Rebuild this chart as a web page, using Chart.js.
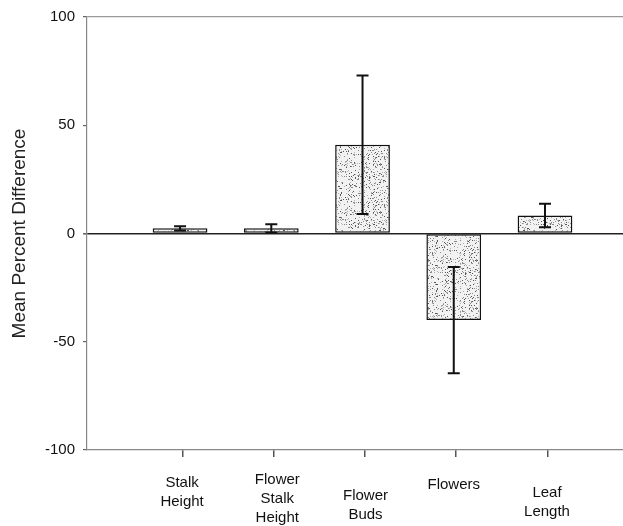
<!DOCTYPE html>
<html>
<head>
<meta charset="utf-8">
<script src="https://cdn.jsdelivr.net/npm/chart.js@4/dist/chart.umd.min.js"></script>
<style>
  html, body { margin: 0; padding: 0; background: #fff; }
  #wrap { width: 623px; height: 526px; position: relative; }
</style>
</head>
<body>
<div id="wrap"><canvas id="c" width="623" height="526"></canvas></div>
<script>
// Mean percent difference per measured trait, with error half-widths
const categories = ['Stalk Height', 'Flower Stalk Height', 'Flower Buds', 'Flowers', 'Leaf Length'];
const means = [2.4, 2.4, 41, -40, 8.3];
const errors = [1.0, 1.9, 32, 24.5, 5.4];
const yTicks = [-100, -50, 0, 50, 100];

// Category label placement below the axis (first-line offset and horizontal nudge, px)
const labelDrop = [33, 30, 46, 35, 43];
const labelNudge = [2, 6, 3, 0, 2];

const FONT = '"Liberation Sans", Arial, Helvetica, sans-serif';

// Stippled grey fill for the bars
function stipplePattern() {
  const size = 48;
  const p = document.createElement('canvas');
  p.width = size; p.height = size;
  const g = p.getContext('2d');
  g.fillStyle = '#f2f2f2';
  g.fillRect(0, 0, size, size);
  let s = 12345;
  const next = () => { s = (s * 1103515245 + 12345) & 0x7fffffff; return s / 0x7fffffff; };
  for (let k = 0; k < 400; k++) {
    const x = Math.floor(next() * size), y = Math.floor(next() * size);
    const t = next();
    g.fillStyle = t < 0.3 ? '#555' : (t < 0.7 ? '#8a8a8a' : '#b0b0b0');
    g.fillRect(x, y, 1, 1);
  }
  return g.createPattern(p, 'repeat');
}

const ctx = document.getElementById('c').getContext('2d');

const errorBars = {
  id: 'errorBars',
  afterDatasetsDraw(chart) {
    const meta = chart.getDatasetMeta(0);
    const y = chart.scales.y;
    const c = chart.ctx;
    c.save();
    c.strokeStyle = '#111';
    c.lineWidth = 2;
    meta.data.forEach((bar, i) => {
      const x = bar.x;
      const top = y.getPixelForValue(means[i] + errors[i]);
      const bot = y.getPixelForValue(means[i] - errors[i]);
      c.beginPath();
      c.moveTo(x, top); c.lineTo(x, bot);
      c.moveTo(x - 6, top); c.lineTo(x + 6, top);
      c.moveTo(x - 6, bot); c.lineTo(x + 6, bot);
      c.stroke();
    });
    c.restore();
  }
};

const categoryLabels = {
  id: 'categoryLabels',
  afterDraw(chart) {
    const xs = chart.scales.x;
    const base = chart.chartArea.bottom;
    const c = chart.ctx;
    c.save();
    c.font = '15px ' + FONT;
    c.fillStyle = '#111';
    c.textAlign = 'center';
    c.textBaseline = 'middle';
    categories.forEach((name, i) => {
      const x = xs.getPixelForValue(i + 1) + labelNudge[i];
      name.split(' ').forEach((word, j) => {
        c.fillText(word, x, base + labelDrop[i] + j * 19);
      });
    });
    c.restore();
  }
};

new Chart(ctx, {
  type: 'bar',
  data: {
    datasets: [{
      data: categories.map((_, i) => ({ x: i + 1, y: means[i] })),
      backgroundColor: stipplePattern(),
      borderColor: '#111',
      borderWidth: 1.5,
      borderSkipped: false,
      barPercentage: 0.6,
      categoryPercentage: 1.0
    }]
  },
  options: {
    responsive: false,
    animation: false,
    devicePixelRatio: 1,
    layout: { padding: { top: 17, right: 0, left: 0, bottom: 0 } },
    plugins: { legend: { display: false }, tooltip: { enabled: false } },
    scales: {
      x: {
        type: 'linear',
        offset: false,
        min: -0.02,
        max: 5.855,
        afterBuildTicks(scale) {
          scale.ticks = categories.map((_, i) => ({ value: i + 1.025 }));
        },
        afterFit(scale) { scale.height = 76; },
        ticks: { callback: () => '', font: { size: 1 } },
        grid: { offset: false, drawOnChartArea: false, drawTicks: true, tickLength: 7, color: '#555', lineWidth: 1.5 },
        border: { color: '#888', width: 1.2 }
      },
      y: {
        min: -100,
        max: 100,
        afterBuildTicks(scale) {
          scale.ticks = yTicks.map(v => ({ value: v }));
        },
        afterFit(scale) { scale.width = 87; },
        ticks: {
          padding: 8,
          color: '#111',
          font: { family: FONT, size: 15 }
        },
        grid: {
          drawOnChartArea: true,
          drawTicks: true,
          tickLength: 4,
          tickColor: '#666',
          color: c => c.tick && c.tick.value === 0 ? '#222' : (c.tick && c.tick.value === 100 ? '#999' : 'rgba(0,0,0,0)'),
          lineWidth: c => c.tick && c.tick.value === 0 ? 1.6 : 1.2
        },
        border: { color: '#888', width: 1.2 },
        title: {
          display: true,
          text: 'Mean Percent Difference',
          color: '#222',
          font: { family: FONT, size: 19 },
          padding: { top: 8, bottom: 0 }
        }
      }
    }
  },
  plugins: [errorBars, categoryLabels]
});
</script>
</body>
</html>
